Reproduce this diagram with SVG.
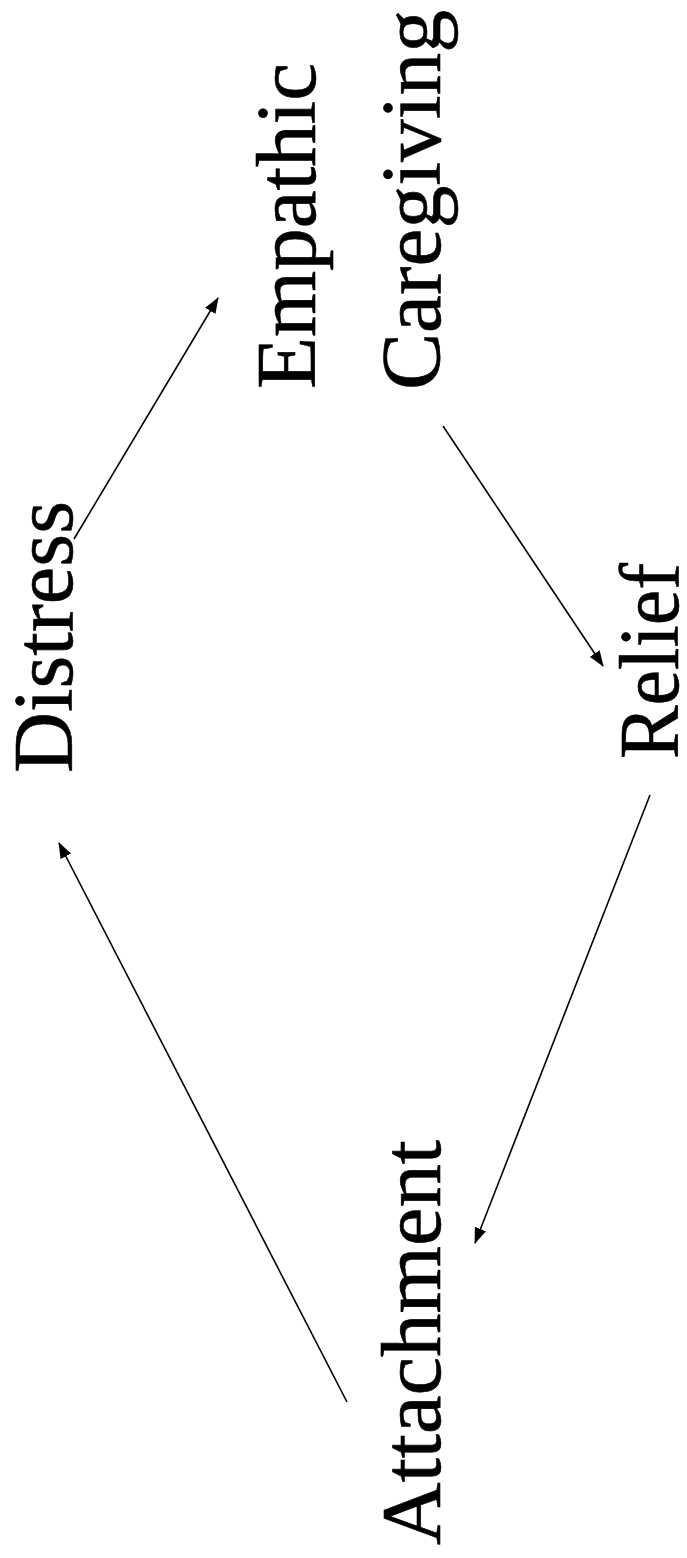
<svg xmlns="http://www.w3.org/2000/svg" width="687" height="1558" viewBox="0 0 687 1558">
  <style>
    .label { font-family: "Liberation Serif", "Times New Roman", serif; font-size: 84px; fill: #000; stroke: #000; stroke-width: 0.6; }
    .edge { stroke: #000; stroke-width: 1.6; fill: none; marker-end: url(#arrow); }
  </style>
  <defs>
    <marker id="arrow" viewBox="0 0 16 12" refX="15" refY="6" markerWidth="16" markerHeight="12" markerUnits="userSpaceOnUse" orient="auto">
      <path d="M0,0 L16,6 L0,12 Z" fill="#000"/>
    </marker>
  </defs>
  <rect width="687" height="1558" fill="#fff"/>

  <!-- cycle nodes, set vertically -->
  <g id="distress">
    <text class="label" transform="translate(72,773) rotate(-90)" textLength="272" lengthAdjust="spacingAndGlyphs">Distress</text>
  </g>
  <g id="empathic-caregiving">
    <text class="label" transform="translate(315,389) rotate(-90)" textLength="326" lengthAdjust="spacingAndGlyphs">Empathic</text>
    <text class="label" transform="translate(440,390) rotate(-90)" textLength="380" lengthAdjust="spacingAndGlyphs">Caregiving</text>
  </g>
  <g id="relief">
    <text class="label" transform="translate(678,759) rotate(-90)" textLength="196" lengthAdjust="spacingAndGlyphs">Relief</text>
  </g>
  <g id="attachment">
    <text class="label" transform="translate(440,1545) rotate(-90)" textLength="405" lengthAdjust="spacingAndGlyphs">Attachment</text>
  </g>

  <!-- connectors -->
  <g id="connectors">
    <line class="edge" x1="74" y1="539" x2="218" y2="298"/>
    <line class="edge" x1="443" y1="426" x2="603" y2="666"/>
    <line class="edge" x1="650" y1="795" x2="475" y2="1243"/>
    <line class="edge" x1="347" y1="1402" x2="59" y2="843"/>
  </g>
</svg>
